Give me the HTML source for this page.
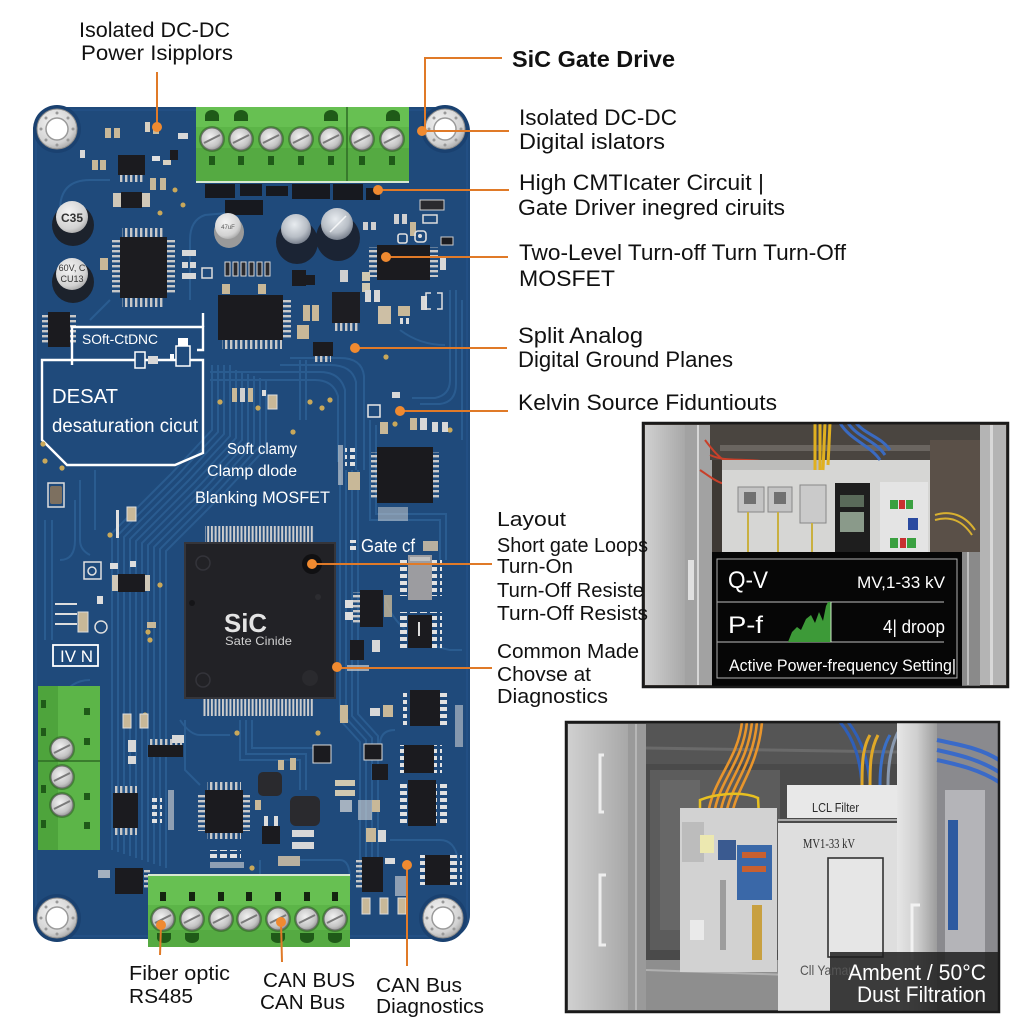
<!DOCTYPE html>
<html><head><meta charset="utf-8">
<style>html,body{margin:0;padding:0;background:#fff}svg{display:block}</style>
</head><body>
<svg width="1024" height="1024" viewBox="0 0 1024 1024" xmlns="http://www.w3.org/2000/svg" font-family="'Liberation Sans', sans-serif">
<defs>
  <radialGradient id="scr" cx="0.42" cy="0.4" r="0.7">
    <stop offset="0" stop-color="#f2f2f2"/><stop offset="0.65" stop-color="#c4c4c4"/><stop offset="1" stop-color="#808080"/>
  </radialGradient>
  <radialGradient id="silv" cx="0.4" cy="0.35" r="0.75">
    <stop offset="0" stop-color="#f4f4f4"/><stop offset="0.7" stop-color="#d2d2d2"/><stop offset="1" stop-color="#9a9a9a"/>
  </radialGradient>
  <radialGradient id="ecap" cx="0.45" cy="0.35" r="0.7">
    <stop offset="0" stop-color="#e8ecf0"/><stop offset="0.6" stop-color="#b8bec6"/><stop offset="1" stop-color="#6a7280"/>
  </radialGradient>
  <linearGradient id="door" x1="0" x2="1">
    <stop offset="0" stop-color="#d0d0d0"/><stop offset="1" stop-color="#a8a8a8"/>
  </linearGradient>
  <linearGradient id="bar" x1="0" x2="1">
    <stop offset="0" stop-color="#e6e6e6"/><stop offset="0.5" stop-color="#cfcfcf"/><stop offset="1" stop-color="#9c9c9c"/>
  </linearGradient>
  <pattern id="pinV" width="3.7" height="20" patternUnits="userSpaceOnUse"><rect width="2" height="20" fill="#cdcdcd"/></pattern>
  <pattern id="pinVs" width="5" height="10" patternUnits="userSpaceOnUse"><rect width="2.4" height="10" fill="#c8c8c8"/></pattern>
  <pattern id="pinHs" width="10" height="5" patternUnits="userSpaceOnUse"><rect width="10" height="2.4" fill="#c8c8c8"/></pattern>
  <pattern id="padH" width="10" height="7" patternUnits="userSpaceOnUse"><rect width="7" height="4" fill="#e2e2e2"/></pattern>
  <g id="screw">
    <circle r="13" fill="#2e5a24" opacity="0.55"/>
    <circle r="11" fill="url(#scr)" stroke="#6d6d6d" stroke-width="1"/>
    <line x1="-8" y1="4" x2="8" y2="-4" stroke="#7a7a7a" stroke-width="2"/>
  </g>
  <g id="mh">
    <circle r="24" fill="#1a4170"/>
    <circle r="20" fill="url(#silv)" stroke="#8c8c8c" stroke-width="1"/>
    <circle r="11" fill="#ffffff" stroke="#9a9a9a" stroke-width="1.5"/>
    <circle cx="0" cy="-16" r="1.5" fill="#999"/><circle cx="0" cy="16" r="1.5" fill="#999"/>
    <circle cx="-16" cy="0" r="1.5" fill="#999"/><circle cx="16" cy="0" r="1.5" fill="#999"/>
    <circle cx="-11" cy="-11" r="1.5" fill="#999"/><circle cx="11" cy="11" r="1.5" fill="#999"/>
    <circle cx="11" cy="-11" r="1.5" fill="#999"/><circle cx="-11" cy="11" r="1.5" fill="#999"/>
  </g>
</defs>

<rect width="1024" height="1024" fill="#ffffff"/>

<!-- ================= PCB ================= -->
<rect x="33" y="107" width="437" height="832" rx="24" fill="#1f4a7b"/>
<rect x="36" y="110" width="431" height="826" rx="22" fill="none" stroke="#24548a" stroke-width="2" opacity="0.6"/>

<!-- traces -->
<g fill="none" stroke="#2e6298" stroke-width="2" opacity="0.75">
  <path d="M212 365 L212 430 L170 475 L112 533 L112 850 M218 365 L218 432 L176 477 L118 535 L118 852 M224 365 L224 434 L182 479 L124 537 L124 854 M230 365 L230 436 L188 481 L130 539 L130 856 M236 370 L236 438 L194 483 L136 541 L136 858 M242 372 L242 440 L200 485 L142 543 L142 860 M248 374 L248 442 L206 487 L148 545 L148 862 M254 376 L254 444 L212 489 L154 547 L154 864 M260 378 L260 446 L218 491 L160 549 L160 866 M266 380 L266 448 L224 493 L166 551 L166 868"/>
  <path d="M340 470 L340 720 L360 742 L360 880 M346 470 L346 718 L366 740 L366 880 M352 470 L352 716 L372 738 L372 880 M358 470 L358 714 L378 736 L378 880"/>
  <path d="M210 372 L320 372 Q340 372 345 390 L345 460 M210 380 L315 380 Q333 380 338 396 L338 462 M280 365 L330 365 Q352 365 356 382 L356 470 M290 358 L340 358 Q362 358 364 376 L364 470"/>
  <path d="M370 420 L370 520 L440 520 L440 560 M376 425 L376 514 L446 514 L446 560 M300 360 L300 420 M306 360 L306 420"/>
  <path d="M240 720 L240 760 L300 760 L300 790 M246 720 L246 754 L306 754 L306 790 M252 720 L252 748 L330 748 M185 720 L185 770 L200 785"/>
  <path d="M60 210 Q60 180 90 180 L110 180 M90 320 L110 300 M385 600 Q400 640 450 650 L462 650 M390 840 L440 840 Q455 840 458 860 M300 860 L340 860 Q350 860 350 880"/>
  <path d="M60 560 Q75 560 75 540 L75 500 M60 700 Q70 680 90 680 M190 300 L190 240 Q190 220 205 215 L260 210"/>
  <path d="M450 290 L450 380 Q450 395 435 398 L412 398 M456 290 L456 384 Q456 402 440 404 L420 404 M462 300 L462 440 M400 330 Q420 345 445 345"/>
  <path d="M80 480 L80 540 Q80 550 90 555 M95 470 L95 530 M45 520 L45 640 M52 520 L52 640"/>
  <path d="M180 720 Q190 735 200 735 L230 735 M260 860 L260 875 M395 730 Q380 730 380 745"/>
</g>

<!-- mounting holes -->
<use href="#mh" x="57" y="129"/>
<use href="#mh" x="445" y="129"/>
<use href="#mh" x="57" y="918"/>
<use href="#mh" x="443" y="918"/>

<!-- ===== top-left area components ===== -->
<g>
  <rect x="118" y="155" width="27" height="20" fill="#1b1b1f"/>
  <rect x="119" y="175" width="25" height="7" fill="url(#pinVs)"/>
  <rect x="105" y="128" width="6" height="10" fill="#c8b898"/><rect x="114" y="128" width="6" height="10" fill="#c8b898"/>
  <rect x="145" y="122" width="5" height="10" fill="#d8d0c0"/><rect x="153" y="125" width="6" height="9" fill="#c8b898"/>
  <rect x="92" y="160" width="6" height="10" fill="#c8b898"/><rect x="100" y="160" width="6" height="10" fill="#c8b898"/>
  <rect x="152" y="156" width="8" height="5" fill="#e0e0e0"/><rect x="163" y="160" width="8" height="5" fill="#d8d0c0"/>
  <rect x="150" y="178" width="6" height="12" fill="#c8b898"/><rect x="160" y="178" width="6" height="12" fill="#c8b898"/>
  <rect x="178" y="133" width="10" height="6" fill="#d8d8d8"/><rect x="170" y="150" width="8" height="10" fill="#1b1b1f"/>
  <rect x="113" y="193" width="37" height="14" fill="#d0c8b8"/><rect x="121" y="192" width="21" height="16" fill="#1c1c20"/>
  <circle cx="175" cy="190" r="2.5" fill="#c9a85a"/><circle cx="183" cy="205" r="2.5" fill="#c9a85a"/>
  <rect x="80" y="150" width="5" height="8" fill="#d8d8d8"/>
  <circle cx="160" cy="213" r="2.5" fill="#c9a85a"/>
</g>

<!-- dark band under top terminal -->
<g fill="#17191f">
  <rect x="205" y="184" width="30" height="14"/><rect x="240" y="184" width="22" height="12"/>
  <rect x="266" y="186" width="22" height="10"/><rect x="292" y="184" width="38" height="15"/>
  <rect x="333" y="184" width="30" height="16"/><rect x="366" y="188" width="14" height="12"/>
  <rect x="225" y="200" width="38" height="15"/>
</g>

<!-- top terminal block -->
<g>
  <rect x="196" y="107" width="213" height="75" fill="#5cb548"/>
  <rect x="196" y="107" width="213" height="20" fill="#67c052"/>
  <rect x="196" y="148" width="213" height="34" fill="#55aa42"/>
  <line x1="347" y1="107" x2="347" y2="182" stroke="#2f6b24" stroke-width="1.5"/>
  <rect x="196" y="181" width="213" height="2" fill="#d8e8d0"/>
  <g fill="#1f5a18">
    <path d="M205 121 L205 116 A7 6 0 0 1 219 116 L219 121 Z"/>
    <path d="M234 121 L234 116 A7 6 0 0 1 248 116 L248 121 Z"/>
    <path d="M324 121 L324 116 A7 6 0 0 1 338 116 L338 121 Z"/>
    <path d="M386 121 L386 116 A7 6 0 0 1 400 116 L400 121 Z"/>
    <rect x="209" y="156" width="6" height="9"/><rect x="238" y="156" width="6" height="9"/>
    <rect x="268" y="156" width="6" height="9"/><rect x="298" y="156" width="6" height="9"/>
    <rect x="328" y="156" width="6" height="9"/><rect x="359" y="156" width="6" height="9"/>
    <rect x="389" y="156" width="6" height="9"/>
  </g>
  <use href="#screw" x="212" y="139"/><use href="#screw" x="241" y="139"/>
  <use href="#screw" x="271" y="139"/><use href="#screw" x="301" y="139"/>
  <use href="#screw" x="331" y="139"/><use href="#screw" x="362" y="139"/>
  <use href="#screw" x="392" y="139"/>
</g>

<!-- capacitors -->
<g>
  <ellipse cx="73" cy="225" rx="21" ry="21" fill="#1c222c"/>
  <circle cx="72" cy="217" r="16" fill="url(#silv)"/>
  <text x="72" y="222" font-size="12" font-weight="bold" fill="#333" text-anchor="middle">C35</text>
  <ellipse cx="73" cy="282" rx="21" ry="21" fill="#1c222c"/>
  <circle cx="72" cy="274" r="16" fill="url(#silv)"/>
  <text x="72" y="271" font-size="9" fill="#333" text-anchor="middle">60V, C</text>
  <text x="72" y="282" font-size="9" fill="#333" text-anchor="middle">CU13</text>

  <ellipse cx="229" cy="232" rx="15" ry="16" fill="#9a9a9a"/>
  <circle cx="228" cy="226" r="13" fill="url(#silv)"/>
  <text x="228" y="229" font-size="6" fill="#555" text-anchor="middle">47uF</text>

  <ellipse cx="297" cy="242" rx="21" ry="22" fill="#1b2434"/>
  <circle cx="296" cy="229" r="15" fill="url(#ecap)"/>
  <ellipse cx="338" cy="238" rx="22" ry="23" fill="#1b2434"/>
  <circle cx="337" cy="224" r="16" fill="url(#ecap)"/>
  <line x1="330" y1="232" x2="346" y2="216" stroke="#ffffff" stroke-width="1.5" opacity="0.8"/>
</g>

<!-- QFP left -->
<g>
  <rect x="120" y="237" width="47" height="61" fill="#1c1c20"/>
  <rect x="122" y="228" width="43" height="9" fill="url(#pinVs)"/>
  <rect x="122" y="298" width="43" height="9" fill="url(#pinVs)"/>
  <rect x="167" y="240" width="8" height="55" fill="url(#pinHs)"/>
  <rect x="112" y="240" width="8" height="55" fill="url(#pinHs)"/>
  <rect x="182" y="250" width="14" height="6" fill="#d8d8d8"/><rect x="182" y="262" width="6" height="6" fill="#d8d8d8"/><rect x="190" y="262" width="6" height="6" fill="#d8d8d8"/>
  <rect x="182" y="273" width="14" height="6" fill="#d8d8d8"/>
  <rect x="100" y="258" width="8" height="12" fill="#c8b898"/>
  <rect x="202" y="268" width="10" height="10" fill="none" stroke="#ddd" stroke-width="1.5"/>
</g>

<!-- SMD row -->
<g fill="#2a2a2e" stroke="#d8d8d8" stroke-width="1">
  <rect x="225" y="262" width="5" height="14"/><rect x="233" y="262" width="5" height="14"/>
  <rect x="241" y="262" width="5" height="14"/><rect x="249" y="262" width="5" height="14"/>
  <rect x="257" y="262" width="5" height="14"/><rect x="265" y="262" width="5" height="14"/>
</g>

<!-- middle-top ICs -->
<g>
  <rect x="218" y="295" width="65" height="45" fill="#1b1b1f"/>
  <rect x="222" y="340" width="60" height="9" fill="url(#pinVs)"/>
  <rect x="283" y="298" width="8" height="40" fill="url(#pinHs)"/>
  <rect x="222" y="284" width="8" height="10" fill="#c8b898"/><rect x="258" y="284" width="8" height="10" fill="#c8b898"/>
  <rect x="332" y="292" width="28" height="31" fill="#1d1d22"/>
  <rect x="334" y="323" width="24" height="8" fill="url(#pinVs)"/>
  <rect x="303" y="305" width="7" height="16" fill="#c8b898"/><rect x="312" y="305" width="7" height="16" fill="#c8b898"/>
  <rect x="297" y="325" width="12" height="14" fill="#c8b898"/>
  <rect x="313" y="342" width="20" height="14" fill="#1b1b1f"/><rect x="315" y="356" width="16" height="6" fill="url(#pinVs)"/>
  <rect x="292" y="270" width="14" height="16" fill="#1b1b1f"/>
  <rect x="305" y="275" width="10" height="10" fill="#1b1b1f"/>
  <rect x="340" y="270" width="8" height="12" fill="#d0d0d0"/>
</g>

<!-- right-top components -->
<g>
  <rect x="420" y="200" width="24" height="10" fill="#2a2a2e" stroke="#cfcfcf" stroke-width="1"/>
  <rect x="423" y="215" width="14" height="8" fill="none" stroke="#ddd" stroke-width="1.5"/>
  <rect x="394" y="214" width="5" height="10" fill="#d0d0d0"/><rect x="402" y="214" width="5" height="10" fill="#d0d0d0"/>
  <rect x="410" y="222" width="6" height="14" fill="#c8b898"/>
  <rect x="363" y="222" width="5" height="8" fill="#d0d0d0"/><rect x="371" y="222" width="5" height="8" fill="#d0d0d0"/>
  <rect x="398" y="234" width="9" height="9" rx="2" fill="none" stroke="#e0e0e0" stroke-width="1.6"/>
  <rect x="415" y="231" width="11" height="11" rx="3" fill="none" stroke="#e0e0e0" stroke-width="1.6"/>
  <circle cx="420" cy="236" r="2" fill="#e0e0e0"/>
  <rect x="441" y="237" width="12" height="8" fill="#1b1b1f" stroke="#ccc" stroke-width="1"/>
  <rect x="377" y="245" width="53" height="35" fill="#1b1b1f"/>
  <rect x="369" y="247" width="8" height="30" fill="url(#pinHs)"/>
  <rect x="430" y="247" width="8" height="30" fill="url(#pinHs)"/>
  <rect x="362" y="272" width="8" height="9" fill="#d0c8b0"/><rect x="362" y="283" width="8" height="9" fill="#d0c8b0"/>
  <rect x="365" y="290" width="6" height="12" fill="#d8d8d8"/><rect x="374" y="290" width="6" height="12" fill="#d8d8d8"/>
  <rect x="378" y="306" width="13" height="18" fill="#cdbfa5"/>
  <rect x="398" y="306" width="12" height="10" fill="#c8b898"/>
  <rect x="400" y="318" width="3" height="6" fill="#ddd"/><rect x="406" y="318" width="3" height="6" fill="#ddd"/>
  <rect x="421" y="296" width="6" height="14" fill="#d8d8d8"/>
  <path d="M431 293 L426 293 L426 309 L431 309 M437 293 L442 293 L442 309 L437 309" fill="none" stroke="#e0e0e0" stroke-width="1.5"/>
  <rect x="440" y="258" width="6" height="12" fill="#d8d8d8"/>
</g>

<!-- left IC + SOFT box -->
<g>
  <rect x="48" y="312" width="22" height="35" fill="#1b1b1f"/>
  <rect x="42" y="315" width="6" height="30" fill="url(#pinHs)"/>
  <rect x="70" y="315" width="6" height="30" fill="url(#pinHs)"/>
</g>
<g fill="none" stroke="#ffffff" stroke-width="2.4">
  <path d="M72 365 L72 327 L203 327 L203 350 L197 350"/>
  <path d="M203 327 L203 313"/>
  <path d="M42 360 L203 360 L203 453 L175 465 L67 465 L42 440 Z"/>
</g>
<g>
  <rect x="135" y="352" width="10" height="16" fill="#1f4a7b" stroke="#fff" stroke-width="1.5"/>
  <rect x="148" y="356" width="10" height="8" fill="#d8d8d8"/>
  <rect x="170" y="354" width="4" height="6" fill="#fff"/>
  <rect x="176" y="346" width="14" height="20" fill="#1f4a7b" stroke="#fff" stroke-width="1.5"/>
  <rect x="178" y="338" width="10" height="8" fill="#fff"/>
</g>
<text x="82" y="344" font-size="14" fill="#ffffff" textLength="76" lengthAdjust="spacingAndGlyphs">SOft-CtDNC</text>
<text x="52" y="403" font-size="20" fill="#ffffff" textLength="66" lengthAdjust="spacingAndGlyphs">DESAT</text>
<text x="52" y="432" font-size="19" fill="#ffffff" textLength="146" lengthAdjust="spacingAndGlyphs">desaturation cicut</text>

<!-- middle scattered -->
<g>
  <rect x="232" y="388" width="5" height="14" fill="#c8b898"/><rect x="240" y="388" width="5" height="14" fill="#d0d0d0"/>
  <rect x="248" y="388" width="5" height="14" fill="#c8b898"/>
  <rect x="268" y="395" width="9" height="14" fill="#c8b898" stroke="#ddd" stroke-width="1"/>
  <rect x="262" y="390" width="4" height="6" fill="#ddd"/>
  <g fill="#c9a85a">
    <circle cx="220" cy="402" r="2.6"/><circle cx="258" cy="408" r="2.6"/><circle cx="310" cy="402" r="2.6"/>
    <circle cx="322" cy="408" r="2.6"/><circle cx="330" cy="400" r="2.6"/><circle cx="293" cy="432" r="2.6"/>
    <circle cx="386" cy="357" r="2.6"/><circle cx="395" cy="424" r="2.6"/><circle cx="43" cy="444" r="2.6"/>
    <circle cx="45" cy="461" r="2.6"/><circle cx="62" cy="468" r="2.6"/><circle cx="110" cy="535" r="2.6"/>
    <circle cx="145" cy="715" r="2.6"/><circle cx="237" cy="733" r="2.6"/><circle cx="252" cy="868" r="2.6"/>
    <circle cx="450" cy="430" r="2.6"/><circle cx="160" cy="585" r="2.6"/><circle cx="318" cy="733" r="2.6"/>
  </g>
  <rect x="368" y="405" width="12" height="12" fill="none" stroke="#e8e8e8" stroke-width="1.5"/>
  <rect x="380" y="422" width="8" height="12" fill="#c8b898"/>
  <rect x="410" y="418" width="7" height="12" fill="#c8b898"/><rect x="420" y="418" width="7" height="12" fill="#d8d8d8"/>
  <rect x="432" y="422" width="6" height="10" fill="#d8d8d8"/><rect x="442" y="422" width="6" height="10" fill="#d8d8d8"/>
  <rect x="392" y="392" width="8" height="6" fill="#d8d8d8"/>
  <rect x="377" y="447" width="56" height="56" fill="#1a1a1e"/>
  <rect x="433" y="452" width="6" height="46" fill="url(#pinHs)"/>
  <rect x="371" y="452" width="6" height="46" fill="url(#pinHs)"/>
  <rect x="345" y="445" width="10" height="22" fill="url(#padH)"/>
  <rect x="348" y="472" width="12" height="18" fill="#c8b898"/>
  <rect x="338" y="445" width="5" height="40" fill="#d8d8d8" opacity="0.6"/>
  <rect x="378" y="507" width="30" height="14" fill="#d8d8d8" opacity="0.5"/>
</g>

<text x="227" y="454" font-size="15.5" fill="#ffffff" textLength="70" lengthAdjust="spacingAndGlyphs">Soft clamy</text>
<text x="207" y="476" font-size="15.5" fill="#ffffff" textLength="90" lengthAdjust="spacingAndGlyphs">Clamp dlode</text>
<text x="195" y="503" font-size="16.5" fill="#ffffff" textLength="135" lengthAdjust="spacingAndGlyphs">Blanking MOSFET</text>

<!-- left side components -->
<g>
  <rect x="48" y="483" width="16" height="24" fill="none" stroke="#ddd" stroke-width="1.5"/>
  <rect x="50" y="486" width="12" height="18" rx="2" fill="#7d7060"/>
  <rect x="116" y="510" width="3" height="28" fill="#e0e0e0"/>
  <rect x="127" y="507" width="9" height="14" fill="#c8b898" stroke="#ddd" stroke-width="1"/>
  <rect x="84" y="562" width="17" height="17" fill="none" stroke="#e0e0e0" stroke-width="1.5"/>
  <circle cx="92" cy="571" r="4" fill="none" stroke="#e0e0e0" stroke-width="1.5"/>
  <rect x="110" y="563" width="8" height="6" fill="#ddd"/><rect x="130" y="561" width="6" height="6" fill="#ddd"/>
  <rect x="112" y="575" width="38" height="16" fill="#d0c8b8"/>
  <rect x="118" y="574" width="27" height="18" fill="#1b1b1f"/>
  <rect x="55" y="603" width="22" height="2" fill="#ddd"/><rect x="55" y="613" width="22" height="2" fill="#ddd"/>
  <rect x="55" y="623" width="22" height="2" fill="#ddd"/>
  <rect x="78" y="612" width="10" height="20" fill="#c8b898" stroke="#ddd" stroke-width="1"/>
  <circle cx="101" cy="627" r="6" fill="none" stroke="#ddd" stroke-width="1.5"/>
  <rect x="53" y="645" width="45" height="21" fill="none" stroke="#ffffff" stroke-width="1.8"/>
  <text x="60" y="662" font-size="17" fill="#ffffff">IV N</text>
  <rect x="147" y="622" width="9" height="6" fill="#c8b898"/>
  <circle cx="148" cy="632" r="2.6" fill="#c9a85a"/><circle cx="150" cy="640" r="2.6" fill="#c9a85a"/>
  <rect x="97" y="596" width="6" height="8" fill="#ddd"/>
</g>

<!-- left terminal block -->
<g>
  <rect x="38" y="686" width="62" height="164" fill="#5cb548"/>
  <rect x="38" y="686" width="20" height="164" fill="#4ea43c"/>
  <line x1="38" y1="761" x2="100" y2="761" stroke="#2f6b24" stroke-width="1.5"/>
  <g fill="#1f5a18">
    <rect x="41" y="700" width="5" height="8"/><rect x="41" y="728" width="5" height="8"/>
    <rect x="41" y="785" width="5" height="8"/><rect x="41" y="820" width="5" height="8"/>
    <rect x="84" y="708" width="6" height="7"/><rect x="84" y="738" width="6" height="7"/>
    <rect x="84" y="793" width="6" height="7"/><rect x="84" y="822" width="6" height="7"/>
  </g>
  <use href="#screw" x="62" y="749"/><use href="#screw" x="62" y="777"/><use href="#screw" x="62" y="805"/>
</g>

<!-- big SiC IC -->
<g>
  <rect x="205" y="526" width="109" height="17" fill="url(#pinV)"/>
  <rect x="203" y="698" width="110" height="18" fill="url(#pinV)"/>
  <rect x="185" y="543" width="150" height="155" fill="#222226"/>
  <rect x="185" y="543" width="150" height="155" fill="none" stroke="#35353a" stroke-width="2"/>
  <circle cx="203" cy="563" r="7" fill="none" stroke="#34343a" stroke-width="1.5"/>
  <circle cx="312" cy="564" r="10" fill="#101012"/>
  <circle cx="203" cy="680" r="7" fill="none" stroke="#34343a" stroke-width="1.5"/>
  <circle cx="310" cy="678" r="8" fill="#2a2a2e"/>
  <circle cx="192" cy="603" r="3" fill="#151518"/><circle cx="318" cy="597" r="3" fill="#2c2c30"/>
  <text x="224" y="632" font-size="26" font-weight="bold" fill="#e4e4e4" textLength="43" lengthAdjust="spacingAndGlyphs">SiC</text>
  <text x="225" y="645" font-size="12" fill="#cfcfcf" textLength="67" lengthAdjust="spacingAndGlyphs">Sate Cinide</text>
</g>

<!-- right of big IC -->
<g>
  <text x="361" y="552" font-size="18" fill="#ffffff" textLength="54" lengthAdjust="spacingAndGlyphs">Gate cf</text>
  <rect x="348" y="540" width="8" height="12" fill="url(#padH)"/>
  <rect x="423" y="541" width="15" height="10" fill="#b8b0a0"/>
  <rect x="398" y="560" width="44" height="36" fill="url(#padH)"/>
  <rect x="408" y="555" width="24" height="45" fill="#9c9ca0"/>
  <rect x="410" y="557" width="20" height="4" fill="#c0c0c0"/>
  <rect x="360" y="590" width="23" height="37" fill="#1b1b1f"/>
  <rect x="353" y="592" width="7" height="32" fill="url(#pinHs)"/>
  <rect x="384" y="595" width="8" height="22" fill="#c8b898" opacity="0.8"/>
  <rect x="345" y="600" width="8" height="8" fill="#ddd"/><rect x="345" y="612" width="8" height="8" fill="#ddd"/>
  <rect x="398" y="612" width="44" height="38" fill="url(#padH)"/>
  <rect x="408" y="615" width="24" height="33" fill="#1b1b1f"/>
  <rect x="418" y="622" width="2" height="14" fill="#ddd"/>
  <rect x="350" y="640" width="14" height="20" fill="#1b1b1f"/>
  <rect x="372" y="640" width="8" height="12" fill="#d8d8d8"/>
  <rect x="347" y="665" width="22" height="6" fill="#d0d0d0" opacity="0.7"/>
</g>

<!-- bottom area components -->
<g>
  <rect x="123" y="714" width="8" height="14" fill="#c8b898" stroke="#ddd" stroke-width="1"/>
  <rect x="140" y="714" width="8" height="14" fill="#c8b898" stroke="#ddd" stroke-width="1"/>
  <rect x="128" y="740" width="8" height="12" fill="#d8d8d8"/><rect x="128" y="756" width="8" height="8" fill="#d8d8d8"/>
  <rect x="148" y="745" width="35" height="12" fill="#1b1b1f"/>
  <rect x="150" y="739" width="32" height="6" fill="url(#pinVs)"/>
  <rect x="172" y="735" width="12" height="8" fill="#d8d8d8"/>
  <rect x="113" y="793" width="25" height="35" fill="#1b1b1f"/>
  <rect x="115" y="786" width="22" height="7" fill="url(#pinVs)"/>
  <rect x="115" y="828" width="22" height="7" fill="url(#pinVs)"/>
  <rect x="152" y="795" width="10" height="28" fill="url(#padH)"/>
  <rect x="168" y="790" width="6" height="40" fill="#d8d8d8" opacity="0.6"/>
  <rect x="115" y="868" width="28" height="26" fill="#1b1b1f"/>
  <rect x="144" y="870" width="6" height="20" fill="url(#pinHs)"/>
  <rect x="98" y="870" width="12" height="8" fill="#ddd" opacity="0.7"/>

  <rect x="205" y="790" width="38" height="43" fill="#1b1b1f"/>
  <rect x="207" y="782" width="34" height="8" fill="url(#pinVs)"/>
  <rect x="207" y="833" width="34" height="6" fill="url(#pinVs)"/>
  <rect x="198" y="793" width="7" height="38" fill="url(#pinHs)"/>
  <rect x="243" y="793" width="7" height="38" fill="url(#pinHs)"/>
  <rect x="207" y="850" width="34" height="8" fill="url(#padH)"/>
  <rect x="210" y="862" width="34" height="6" fill="#d8d8d8" opacity="0.6"/>
  <rect x="278" y="856" width="22" height="10" fill="#b8b0a0"/>

  <rect x="258" y="772" width="24" height="24" rx="5" fill="#2a2a2e"/>
  <rect x="290" y="796" width="30" height="30" rx="6" fill="#2a2a2e"/>
  <rect x="262" y="826" width="18" height="18" fill="#1b1b1f"/>
  <rect x="264" y="816" width="4" height="10" fill="#ddd"/><rect x="274" y="816" width="4" height="10" fill="#ddd"/>
  <rect x="292" y="830" width="22" height="7" fill="#d8d8d8"/><rect x="292" y="842" width="22" height="7" fill="#d8d8d8"/>
  <rect x="278" y="760" width="6" height="10" fill="#c8b898"/><rect x="290" y="758" width="6" height="12" fill="#c8b898"/>
  <rect x="255" y="800" width="6" height="10" fill="#c8b898"/>

  <rect x="313" y="745" width="18" height="18" fill="#1b1b1f" stroke="#ddd" stroke-width="1"/>
  <rect x="335" y="780" width="20" height="6" fill="#d0c8b0"/><rect x="335" y="790" width="20" height="6" fill="#d0c8b0"/>
  <rect x="340" y="705" width="8" height="18" fill="#c8b898"/>
  <rect x="364" y="744" width="18" height="16" fill="#1b1b1f" stroke="#ddd" stroke-width="1"/>
  <rect x="372" y="764" width="16" height="16" fill="#1b1b1f"/>
  <rect x="340" y="800" width="12" height="12" fill="#ddd" opacity="0.7"/>
  <rect x="358" y="800" width="14" height="20" fill="#d8d8d8" opacity="0.6"/>
  <rect x="372" y="800" width="8" height="12" fill="#c8b898"/>
  <rect x="366" y="828" width="10" height="14" fill="#c8b898"/><rect x="378" y="830" width="8" height="12" fill="#d8d8d8"/>

  <rect x="403" y="690" width="44" height="36" fill="url(#padH)"/>
  <rect x="410" y="690" width="30" height="36" fill="#1b1b1f"/>
  <rect x="398" y="745" width="44" height="28" fill="url(#padH)"/>
  <rect x="404" y="745" width="30" height="28" fill="#1b1b1f"/>
  <rect x="397" y="782" width="50" height="44" fill="url(#padH)"/>
  <rect x="408" y="780" width="28" height="46" fill="#1b1b1f"/>
  <rect x="455" y="705" width="8" height="42" fill="#d8d8d8" opacity="0.55"/>
  <rect x="383" y="705" width="10" height="12" fill="#c8b898"/>
  <rect x="370" y="708" width="10" height="8" fill="#d8d8d8"/>

  <rect x="362" y="857" width="21" height="35" fill="#1b1b1f"/>
  <rect x="356" y="860" width="6" height="30" fill="url(#pinHs)"/>
  <rect x="385" y="858" width="10" height="6" fill="#ddd"/>
  <rect x="395" y="876" width="12" height="20" fill="#d8d8d8" opacity="0.6"/>
  <rect x="418" y="855" width="44" height="30" fill="url(#padH)"/>
  <rect x="425" y="855" width="25" height="30" fill="#1b1b1f"/>
  <rect x="362" y="898" width="8" height="16" fill="#c8b898" stroke="#ddd" stroke-width="1"/>
  <rect x="380" y="898" width="8" height="16" fill="#c8b898" stroke="#ddd" stroke-width="1"/>
  <rect x="398" y="898" width="8" height="16" fill="#c8b898" stroke="#ddd" stroke-width="1"/>
</g>

<!-- bottom terminal block -->
<g>
  <rect x="148" y="875" width="202" height="72" fill="#5cb548"/>
  <rect x="148" y="875" width="202" height="30" fill="#67c052"/>
  <rect x="148" y="930" width="202" height="17" fill="#55aa42"/>
  <rect x="148" y="874" width="202" height="2" fill="#d8e8d0"/>
  <g fill="#14240f">
    <rect x="160" y="892" width="6" height="9"/><rect x="189" y="892" width="6" height="9"/>
    <rect x="218" y="892" width="6" height="9"/><rect x="246" y="892" width="6" height="9"/>
    <rect x="275" y="892" width="6" height="9"/><rect x="304" y="892" width="6" height="9"/>
    <rect x="332" y="892" width="6" height="9"/>
  </g>
  <g fill="#1f5a18">
    <path d="M157 933 L171 933 L171 938 A7 5 0 0 1 157 938 Z"/>
    <path d="M185 933 L199 933 L199 938 A7 5 0 0 1 185 938 Z"/>
    <path d="M271 933 L285 933 L285 938 A7 5 0 0 1 271 938 Z"/>
    <path d="M300 933 L314 933 L314 938 A7 5 0 0 1 300 938 Z"/>
    <path d="M328 933 L342 933 L342 938 A7 5 0 0 1 328 938 Z"/>
  </g>
  <use href="#screw" x="163" y="919"/><use href="#screw" x="192" y="919"/>
  <use href="#screw" x="221" y="919"/><use href="#screw" x="249" y="919"/>
  <use href="#screw" x="278" y="919"/><use href="#screw" x="307" y="919"/>
  <use href="#screw" x="335" y="919"/>
</g>

<!-- ================= leader lines ================= -->
<g stroke="#e07a28" stroke-width="2" fill="none">
  <line x1="157" y1="72" x2="157" y2="127"/>
  <polyline points="502,58 425,58 425,130"/>
  <line x1="422" y1="131" x2="509" y2="131"/>
  <line x1="378" y1="190" x2="509" y2="190"/>
  <line x1="386" y1="257" x2="508" y2="257"/>
  <line x1="355" y1="348" x2="507" y2="348"/>
  <line x1="400" y1="411" x2="508" y2="411"/>
  <line x1="312" y1="564" x2="492" y2="564"/>
  <line x1="337" y1="668" x2="492" y2="668"/>
  <line x1="161" y1="925" x2="160" y2="955"/>
  <line x1="281" y1="922" x2="282" y2="962"/>
  <line x1="407" y1="865" x2="407" y2="966"/>
</g>
<g fill="#f08a30">
  <circle cx="157" cy="127" r="5"/><circle cx="422" cy="131" r="5"/><circle cx="378" cy="190" r="5"/>
  <circle cx="386" cy="257" r="5"/><circle cx="355" cy="348" r="5"/><circle cx="400" cy="411" r="5"/>
  <circle cx="312" cy="564" r="5"/><circle cx="337" cy="667" r="5"/><circle cx="161" cy="925" r="5"/>
  <circle cx="281" cy="922" r="5"/><circle cx="407" cy="865" r="5"/>
</g>

<!-- ================= cabinet photo 1 ================= -->
<g>
  <rect x="643" y="423" width="365" height="264" fill="#3e3934"/>
  <rect x="645" y="425" width="40" height="260" fill="url(#door)"/>
  <rect x="685" y="425" width="27" height="260" fill="#a2a2a2"/>
  <line x1="698" y1="425" x2="698" y2="685" stroke="#d6d6d6" stroke-width="2"/>
  <rect x="688" y="560" width="6" height="40" fill="#e0e0e0"/>
  <rect x="710" y="425" width="270" height="35" fill="#4a4540"/>
  <rect x="720" y="445" width="250" height="6" fill="#6a6560"/>
  <rect x="930" y="440" width="50" height="120" fill="#5a5048"/>
  <rect x="955" y="552" width="25" height="135" fill="#8a8a8a"/>
  <line x1="968" y1="552" x2="968" y2="685" stroke="#bdbdbd" stroke-width="2"/>
  <rect x="980" y="425" width="26" height="260" fill="#b4b4b4"/>
  <rect x="990" y="425" width="3" height="260" fill="#d8d8d8"/>
  <path d="M705 440 C720 460, 730 470, 760 468 M700 470 C715 480, 725 490, 740 480 M710 455 C725 462, 740 458, 770 462" stroke="#c8402a" stroke-width="2" fill="none"/>
  <rect x="722" y="460" width="208" height="92" fill="#d6d6d4"/>
  <rect x="722" y="460" width="100" height="10" fill="#bdbdbb"/>
  <rect x="738" y="487" width="26" height="25" fill="#c4c4c4" stroke="#888" stroke-width="1"/>
  <rect x="744" y="492" width="12" height="12" fill="#707070"/>
  <rect x="768" y="487" width="24" height="25" fill="#c4c4c4" stroke="#888" stroke-width="1"/>
  <rect x="774" y="492" width="12" height="12" fill="#707070"/>
  <rect x="800" y="485" width="26" height="38" fill="#cacaca" stroke="#888" stroke-width="1"/>
  <line x1="748" y1="512" x2="748" y2="552" stroke="#c9b040" stroke-width="2"/>
  <line x1="778" y1="512" x2="778" y2="552" stroke="#c9b040" stroke-width="2"/>
  <line x1="812" y1="523" x2="812" y2="552" stroke="#c9b040" stroke-width="2"/>
  <path d="M815 423 L815 470 M820 423 L820 470 M825 423 L823 470 M830 423 L828 465" stroke="#e0b020" stroke-width="3" fill="none"/>
  <path d="M840 423 C850 440, 870 445, 880 460 M848 423 C858 438, 875 440, 885 455 M856 423 C866 435, 880 436, 890 450" stroke="#3a6ac0" stroke-width="3" fill="none"/>
  <rect x="835" y="483" width="35" height="69" fill="#1e1e1e"/>
  <rect x="840" y="495" width="24" height="12" fill="#5a6a5a"/>
  <rect x="840" y="512" width="24" height="20" fill="#8a9a8a"/>
  <rect x="880" y="482" width="48" height="70" fill="#e4e4e4"/>
  <rect x="890" y="500" width="8" height="9" fill="#3aa040"/><rect x="899" y="500" width="6" height="9" fill="#c83030"/><rect x="906" y="500" width="7" height="9" fill="#3aa040"/>
  <rect x="908" y="518" width="10" height="12" fill="#2a4aa0"/>
  <rect x="890" y="538" width="8" height="10" fill="#3aa040"/><rect x="900" y="538" width="6" height="10" fill="#c83030"/><rect x="907" y="538" width="9" height="10" fill="#3aa040"/>
  <path d="M935 515 C950 510, 965 515, 975 530 M935 520 C950 516, 962 520, 972 535" stroke="#d8b030" stroke-width="2" fill="none"/>
  <rect x="712" y="552" width="250" height="135" fill="#060606"/>
  <rect x="717" y="559" width="240" height="119" fill="none" stroke="#b0b0b0" stroke-width="1"/>
  <line x1="717" y1="602" x2="944" y2="602" stroke="#9a9a9a" stroke-width="1.2"/>
  <line x1="717" y1="642" x2="944" y2="642" stroke="#9a9a9a" stroke-width="1.2"/>
  <polygon points="788,642 792,632 797,627 801,630 806,619 811,615 815,623 819,612 823,621 826,606 828,602 831,602 831,642" fill="#3d9a38"/>
  <line x1="831" y1="602" x2="831" y2="642" stroke="#cfe8c8" stroke-width="1"/>
  <text x="728" y="588" font-size="24" fill="#ffffff" textLength="40" lengthAdjust="spacingAndGlyphs">Q-V</text>
  <text x="857" y="588" font-size="17" fill="#ffffff" textLength="88" lengthAdjust="spacingAndGlyphs">MV,1-33 kV</text>
  <text x="728" y="633" font-size="24" fill="#ffffff" textLength="35" lengthAdjust="spacingAndGlyphs">P-f</text>
  <text x="883" y="633" font-size="18" fill="#ffffff" textLength="62" lengthAdjust="spacingAndGlyphs">4| droop</text>
  <text x="729" y="671" font-size="17" fill="#ffffff" textLength="227" lengthAdjust="spacingAndGlyphs">Active Power-frequency Setting|</text>
  <rect x="643" y="423" width="365" height="264" fill="none" stroke="#1a1a1a" stroke-width="2.5"/>
</g>

<!-- ================= cabinet photo 2 ================= -->
<g>
  <rect x="566" y="722" width="433" height="290" fill="#4a4a4a"/>
  <rect x="568" y="724" width="60" height="286" fill="url(#door)"/>
  <path d="M604 755 L600 755 L600 812 L604 812 M606 875 L600 875 L600 945 L606 945" fill="none" stroke="#eeeeee" stroke-width="3"/>
  <rect x="628" y="724" width="18" height="286" fill="#9a9a9a"/>
  <line x1="636" y1="724" x2="636" y2="1010" stroke="#c0c0c0" stroke-width="1.5"/>
  <rect x="646" y="724" width="254" height="40" fill="#555555"/>
  <line x1="646" y1="748" x2="900" y2="752" stroke="#6a6a6a" stroke-width="3"/>
  <rect x="650" y="770" width="130" height="180" fill="#5c5c5c"/>
  <rect x="660" y="780" width="40" height="150" fill="#676767"/>
  <polygon points="646,960 790,960 790,1010 646,1010" fill="#8e8e8e"/>
  <line x1="646" y1="970" x2="790" y2="975" stroke="#b0b0b0" stroke-width="2"/>
  <g fill="none" stroke="#e8952c" stroke-width="2.6">
    <path d="M742 722 C738 760, 712 780, 708 815"/>
    <path d="M747 722 C743 762, 718 782, 714 815"/>
    <path d="M752 722 C748 764, 724 784, 720 815"/>
    <path d="M757 722 C753 766, 730 786, 726 815"/>
    <path d="M762 722 C758 768, 736 788, 732 815"/>
  </g>
  <path d="M700 815 L700 800 C712 795, 740 790, 758 798 L760 835" fill="none" stroke="#e8c020" stroke-width="2.5"/>
  <rect x="680" y="808" width="97" height="164" fill="#d2d2d2"/>
  <rect x="682" y="822" width="22" height="40" fill="#bcbcbc"/>
  <rect x="700" y="835" width="14" height="18" fill="#ece8b0"/>
  <rect x="718" y="840" width="18" height="20" fill="#3a5a90"/>
  <rect x="737" y="845" width="35" height="55" fill="#3a68a8"/>
  <rect x="742" y="852" width="24" height="6" fill="#c86030"/><rect x="742" y="866" width="24" height="6" fill="#c86030"/>
  <rect x="690" y="920" width="14" height="20" fill="#eaeaea"/>
  <rect x="752" y="905" width="10" height="55" fill="#c8a040"/>
  <rect x="720" y="880" width="6" height="70" fill="#7a7a7a" opacity="0.6"/>
  <g fill="none" stroke-width="3">
    <path d="M840 722 C855 740, 860 760, 862 785" stroke="#2f5fb8"/>
    <path d="M848 722 C862 740, 868 760, 870 785" stroke="#2f5fb8"/>
    <path d="M870 735 C862 748, 862 768, 862 785" stroke="#e0a828"/>
    <path d="M878 735 C870 750, 870 768, 870 785" stroke="#e0a828"/>
    <path d="M890 735 C882 748, 880 768, 880 785" stroke="#3a70c8"/>
    <path d="M898 732 C890 748, 888 768, 888 785" stroke="#8a9ab0"/>
  </g>
  <rect x="787" y="785" width="113" height="33" fill="#e8e8e8"/>
  <rect x="778" y="823" width="122" height="189" fill="#dedede"/>
  <line x1="778" y1="820" x2="900" y2="820" stroke="#a8a8a8" stroke-width="2"/>
  <rect x="828" y="858" width="55" height="99" fill="#e6e6e6" stroke="#333" stroke-width="1.6"/>
  <text x="812" y="812" font-size="13" fill="#2a2a2a" textLength="47" lengthAdjust="spacingAndGlyphs">LCL Filter</text>
  <text x="803" y="848" font-size="14" fill="#2a2a2a" font-family="'Liberation Serif', serif" textLength="52" lengthAdjust="spacingAndGlyphs">MV1-33 kV</text>
  <rect x="897" y="722" width="40" height="290" fill="url(#bar)"/>
  <path d="M920 905 L912 905 L912 960" fill="none" stroke="#f2f2f2" stroke-width="3"/>
  <rect x="937" y="722" width="62" height="290" fill="#8a8a8e"/>
  <path d="M937 740 C960 745, 980 748, 999 760 M937 750 C960 755, 980 760, 999 772 M937 760 C960 765, 980 770, 999 782" stroke="#3a6ac8" stroke-width="4" fill="none"/>
  <rect x="945" y="790" width="40" height="180" fill="#b4b4b8"/>
  <rect x="948" y="820" width="10" height="110" fill="#2d5aa0"/>
  <rect x="830" y="952" width="169" height="60" fill="#1e1e1e" opacity="0.85"/>
  <text x="800" y="975" font-size="14" fill="#555" textLength="55" lengthAdjust="spacingAndGlyphs">Cll Yamau</text>
  <text x="848" y="980" font-size="22" fill="#ffffff" textLength="138" lengthAdjust="spacingAndGlyphs">Ambent / 50°C</text>
  <text x="857" y="1002" font-size="22" fill="#ffffff" textLength="129" lengthAdjust="spacingAndGlyphs">Dust Filtration</text>
  <rect x="566" y="722" width="433" height="290" fill="none" stroke="#1a1a1a" stroke-width="2.5"/>
</g>

<!-- ================= labels ================= -->
<g fill="#111111" font-size="21">
  <text x="79" y="37" textLength="151" lengthAdjust="spacingAndGlyphs">Isolated DC-DC</text>
  <text x="81" y="60" textLength="152" lengthAdjust="spacingAndGlyphs">Power Isipplors</text>
</g>
<text x="512" y="67" font-size="23" font-weight="bold" fill="#111" textLength="163" lengthAdjust="spacingAndGlyphs">SiC Gate Drive</text>
<g fill="#111111" font-size="22">
  <text x="519" y="125" textLength="158" lengthAdjust="spacingAndGlyphs">Isolated DC-DC</text>
  <text x="519" y="149" textLength="146" lengthAdjust="spacingAndGlyphs">Digital islators</text>
  <text x="519" y="190" textLength="245" lengthAdjust="spacingAndGlyphs">High CMTIcater Circuit |</text>
  <text x="518" y="215" textLength="267" lengthAdjust="spacingAndGlyphs">Gate Driver inegred ciruits</text>
  <text x="519" y="260" textLength="327" lengthAdjust="spacingAndGlyphs">Two-Level Turn-off Turn Turn-Off</text>
  <text x="519" y="286" textLength="96" lengthAdjust="spacingAndGlyphs">MOSFET</text>
  <text x="518" y="343" textLength="125" lengthAdjust="spacingAndGlyphs">Split Analog</text>
  <text x="518" y="367" textLength="215" lengthAdjust="spacingAndGlyphs">Digital Ground Planes</text>
  <text x="518" y="410" textLength="259" lengthAdjust="spacingAndGlyphs">Kelvin Source Fiduntiouts</text>
</g>
<g fill="#111111" font-size="20">
  <text x="497" y="526" textLength="69" lengthAdjust="spacingAndGlyphs">Layout</text>
  <text x="497" y="552" textLength="151" lengthAdjust="spacingAndGlyphs">Short gate Loops</text>
  <text x="497" y="573" textLength="76" lengthAdjust="spacingAndGlyphs">Turn-On</text>
  <text x="497" y="597" textLength="147" lengthAdjust="spacingAndGlyphs">Turn-Off Resiste</text>
  <text x="497" y="620" textLength="151" lengthAdjust="spacingAndGlyphs">Turn-Off Resists</text>
  <text x="497" y="658" textLength="142" lengthAdjust="spacingAndGlyphs">Common Made</text>
  <text x="497" y="681" textLength="94" lengthAdjust="spacingAndGlyphs">Chovse at</text>
  <text x="497" y="703" textLength="111" lengthAdjust="spacingAndGlyphs">Diagnostics</text>
  <text x="129" y="980" textLength="101" lengthAdjust="spacingAndGlyphs">Fiber optic</text>
  <text x="129" y="1003" textLength="64" lengthAdjust="spacingAndGlyphs">RS485</text>
  <text x="263" y="987" textLength="92" lengthAdjust="spacingAndGlyphs">CAN BUS</text>
  <text x="260" y="1009" textLength="85" lengthAdjust="spacingAndGlyphs">CAN Bus</text>
  <text x="376" y="992" textLength="86" lengthAdjust="spacingAndGlyphs">CAN Bus</text>
  <text x="376" y="1013" textLength="108" lengthAdjust="spacingAndGlyphs">Diagnostics</text>
</g>
</svg>
</body></html>
